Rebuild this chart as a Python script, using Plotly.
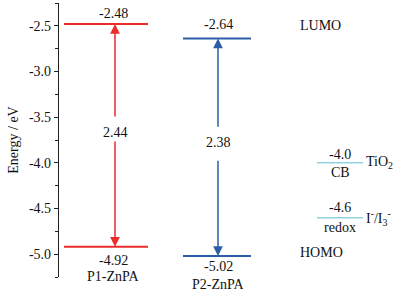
import plotly.graph_objects as go

# Data
dyes = ["P1-ZnPA", "P2-ZnPA"]
lumo = [-2.48, -2.64]
homo = [-4.92, -5.02]
gap = [2.44, 2.38]
tio2_cb = -4.0
redox = -4.6
y_ticks = [-2.5, -3.0, -3.5, -4.0, -4.5, -5.0]

red = "#ec2b2b"
blue = "#2c5ea8"
cyan = "#93d1e2"
colors = [red, blue]
font = "Liberation Serif, Times New Roman, serif"
fs = 14
Y0, Y1 = -5.25, -2.25

# layout positions (pixel-like x units, label y positions)
x_spans = [(64, 148), (183, 251)]
x_arrow = [115, 218]
x_text = [113, 218]
gap_label_y = [-3.67, -3.78]
seg_up_end = [-3.51, -3.62]
seg_dn_start = [-3.75, -3.96]
lumo_label_y = [-2.37, -2.49]
homo_label_y = [-5.07, -5.13]
name_label_y = [-5.24, -5.33]

fig = go.Figure()
annotations = []


def txt(x, y, t, xanchor="center"):
    # paper-referenced y so labels outside the axis range stay visible
    return dict(x=x, y=(y - Y0) / (Y1 - Y0), text=t, showarrow=False,
                xref="x", yref="paper", xanchor=xanchor, yanchor="middle")


for i in range(2):
    x0, x1 = x_spans[i]
    for v in (lumo[i], homo[i]):
        fig.add_trace(go.Scatter(x=[x0, x1], y=[v, v], mode="lines",
                                 line=dict(color=colors[i], width=2),
                                 showlegend=False, hoverinfo="skip"))
    xa = x_arrow[i]
    annotations.append(dict(x=xa, y=lumo[i], ax=xa, ay=seg_up_end[i],
                            xref="x", yref="y", axref="x", ayref="y",
                            showarrow=True, arrowhead=2, arrowsize=1.3,
                            arrowwidth=1.5, arrowcolor=colors[i], text=""))
    annotations.append(dict(x=xa, y=homo[i], ax=xa, ay=seg_dn_start[i],
                            xref="x", yref="y", axref="x", ayref="y",
                            showarrow=True, arrowhead=2, arrowsize=1.3,
                            arrowwidth=1.5, arrowcolor=colors[i], text=""))
    annotations.append(txt(xa, gap_label_y[i], f"{gap[i]:.2f}"))
    annotations.append(txt(x_text[i], lumo_label_y[i], f"{lumo[i]:.2f}"))
    annotations.append(txt(x_text[i], homo_label_y[i], f"{homo[i]:.2f}"))
    annotations.append(txt(x_text[i], name_label_y[i], dyes[i]))

# TiO2 CB and redox levels
side = [(tio2_cb, "CB", "TiO<sub>2</sub>", -3.91, -4.11),
        (redox, "redox", "I<sup>-</sup>/I<sub>3</sub><sup>-</sup>", -4.49, -4.71)]
for v, lab, name, yv, yl in side:
    fig.add_trace(go.Scatter(x=[317, 363], y=[v, v], mode="lines",
                             line=dict(color=cyan, width=1.5),
                             showlegend=False, hoverinfo="skip"))
    annotations.append(txt(340, yv, f"{v:.1f}"))
    annotations.append(txt(340, yl, lab))
    annotations.append(txt(364, v, name, xanchor="left"))

annotations.append(txt(298, -2.5, "LUMO", xanchor="left"))
annotations.append(txt(298, -4.98, "HOMO", xanchor="left"))

fig.update_layout(
    width=409, height=293,
    margin=dict(l=59, r=0, t=3, b=16),
    paper_bgcolor="white", plot_bgcolor="white",
    font=dict(family=font, size=fs, color="#111"),
    annotations=annotations,
    xaxis=dict(range=[59, 409], visible=False, fixedrange=True),
    yaxis=dict(range=[Y0, Y1], tickvals=y_ticks, automargin=False,
               ticktext=[f"{t:.1f}" for t in y_ticks],
               ticks="outside", ticklen=4, tickwidth=1, tickcolor="#222",
               minor=dict(tickvals=[-2.25, -2.75, -3.25, -3.75, -4.25, -4.75, -5.25],
                          ticks="outside", ticklen=3, tickcolor="#222"),
               showline=True, linecolor="#222", linewidth=1.2,
               showgrid=False, zeroline=False,
               title=dict(text="Energy / eV", standoff=7,
                          font=dict(family=font, size=fs))),
)

fig.write_html("out.html", config={"displayModeBar": False},
               post_script="document.body.style.margin='0';")
